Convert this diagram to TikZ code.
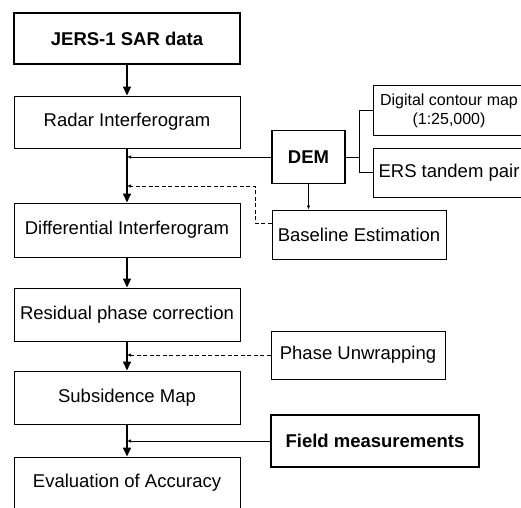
\documentclass[tikz,border=0pt]{standalone}
\usepackage{fontspec}
\setmainfont{Liberation Sans}
\usetikzlibrary{arrows.meta,positioning,calc}
\tikzset{
  stepbox/.style={
    draw,
    rectangle,
    line width=1pt,
    minimum width=226pt,
    minimum height=52pt,
    inner sep=2pt,
    align=center,
    font=\fontsize{18.5}{21}\selectfont
  },
  sidebox/.style={
    stepbox,
    minimum width=174pt,
    minimum height=49pt
  },
  keybox/.style={line width=1.7pt,font=\fontsize{18.5}{21}\selectfont\bfseries},
  flow/.style={-{Triangle[length=9pt,width=8pt]},line width=1.6pt},
  feed/.style={-{Latex[length=4pt,width=3.5pt]},line width=1pt},
  feeddash/.style={feed,dash pattern=on 4pt off 2.5pt},
  link/.style={line width=1pt}
}
\begin{document}
\begin{tikzpicture}[x=1pt,y=-1pt]

\useasboundingbox (0,0) rectangle (521,507);
\clip (0,0) rectangle (521,507);

% Columna principal del procesado
\node[stepbox, keybox, minimum height=51pt] (jersA) at (127,38.5) {JERS-1 SAR data};
\node[stepbox] (radarA) at (127,122) {Radar Interferogram};
\node[stepbox, minimum height=54pt] (diffA) at (127,230) {Differential Interferogram};
\node[stepbox, minimum height=53pt] (residA) at (127,314.5) {Residual phase correction};
\node[stepbox, minimum height=53pt] (subsA) at (127,397.5) {Subsidence Map};
\node[stepbox] (evalA) at (127,483) {Evaluation of Accuracy};

% Bloques auxiliares a la derecha
\node[stepbox, keybox, minimum width=73pt, minimum height=53pt] (demB) at (308.5,157) {DEM};
\node[sidebox, minimum width=152pt, minimum height=50pt,
  font=\fontsize{16}{19}\selectfont] (contourB) at (449,110.5)
  {Digital contour map\\(1:25,000)};
\node[sidebox, minimum width=152pt] (ersB) at (449,172.5) {ERS tandem pair};
\node[sidebox] (baseB) at (359,234.5) {Baseline Estimation};
\node[sidebox, minimum height=48pt] (phaseB) at (358,355) {Phase Unwrapping};
\node[sidebox, keybox, minimum width=208pt, minimum height=52pt] (fieldB) at (375,441)
  {Field measurements};

% Flujo principal
\draw[flow] (jersA.south) -- (radarA.north);
\draw[flow] (radarA.south) -- (diffA.north);
\draw[flow] (diffA.south) -- (residA.north);
\draw[flow] (residA.south) -- (subsA.north);
\draw[flow] (subsA.south) -- (evalA.north);

% Fuentes del DEM unidas por un solo tramo vertical
\coordinate (demS) at (359,157);
\draw[link] (demB.east) -- (demS);
\draw[link] (contourB.west) -| (demS);
\draw[link] (ersB.west) -| (demS);

% El DEM entra en la columna y alimenta la estimacion de la linea base
\draw[feed] (demB.west) -- (demB.west -| radarA.south);
\draw[feed] (demB.south) -- (demB.south |- baseB.north);

% Linea base: tramo discontinuo que sube y entra por la izquierda
\coordinate (baseK1) at (255,223);
\coordinate (baseK2) at (255,186);
\draw[feeddash] (baseB.west |- baseK1) -- (baseK1) -- (baseK2)
  -- (baseK2 -| radarA.south);

% Desenrollado de fase y medidas de campo
\draw[feeddash] (phaseB.west) -- (phaseB.west -| residA.south);
\draw[feed] (fieldB.west) -- (fieldB.west -| subsA.south);

\end{tikzpicture}
\end{document}
